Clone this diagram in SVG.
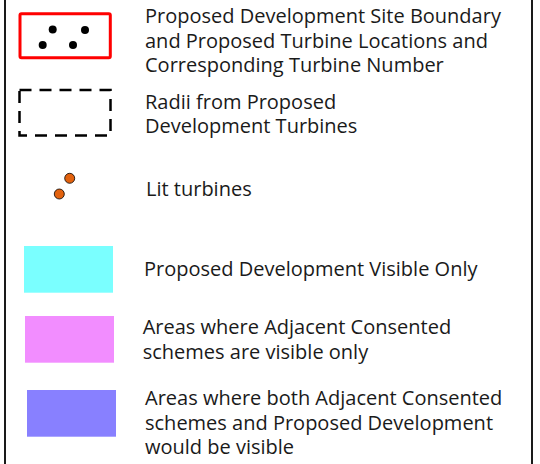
<svg xmlns="http://www.w3.org/2000/svg" width="540" height="464" viewBox="0 0 540 464">
<style>
text{font-family:"Open Sans","Liberation Sans",sans-serif;font-size:20px;fill:#1a1a1a}
.dot{fill:#000}
.lit{fill:#e2620e;stroke:#000;stroke-width:0.8}
</style>
<rect width="540" height="464" fill="#fff"/>
<g id="frame">
<line x1="5" y1="0" x2="5" y2="464" stroke="#1a1a1a" stroke-width="2"/>
<line x1="532" y1="0" x2="532" y2="464" stroke="#1a1a1a" stroke-width="2"/>
</g>
<g id="site-boundary">
<rect x="20" y="13.8" width="90.3" height="44" rx="1.5" fill="none" stroke="#ff0000" stroke-width="3"/>
<circle class="dot" cx="52.7" cy="29.5" r="4"/>
<circle class="dot" cx="85" cy="30" r="4"/>
<circle class="dot" cx="42.7" cy="45" r="4"/>
<circle class="dot" cx="73" cy="45" r="4"/>
<text x="145" y="23">Proposed Development Site Boundary</text>
<text x="145" y="47.5">and Proposed Turbine Locations and</text>
<text x="145" y="72">Corresponding Turbine Number</text>
</g>
<g id="radii">
<rect x="19.5" y="90" width="91" height="45.5" fill="none" stroke="#000" stroke-width="2.5" stroke-dasharray="12,8"/>
<text x="145" y="108.5">Radii from Proposed</text>
<text x="145" y="133">Development Turbines</text>
</g>
<g id="lit-turbines">
<circle class="lit" cx="69.7" cy="178.3" r="5"/>
<circle class="lit" cx="59.3" cy="194" r="5"/>
<text x="146" y="196">Lit turbines</text>
</g>
<g id="proposed-visible">
<rect x="24" y="246" width="89" height="46.7" fill="#7affff"/>
<text x="144" y="276">Proposed Development Visible Only</text>
</g>
<g id="adjacent-visible">
<rect x="25" y="316" width="89" height="46.7" fill="#f28dff"/>
<text x="142.7" y="334">Areas where Adjacent Consented</text>
<text x="142.7" y="358.8">schemes are visible only</text>
</g>
<g id="both-visible">
<rect x="27" y="390" width="89" height="46.7" fill="#8880ff"/>
<text x="145" y="405">Areas where both Adjacent Consented</text>
<text x="145" y="429.5">schemes and Proposed Development</text>
<text x="145" y="454">would be visible</text>
</g>
</svg>
